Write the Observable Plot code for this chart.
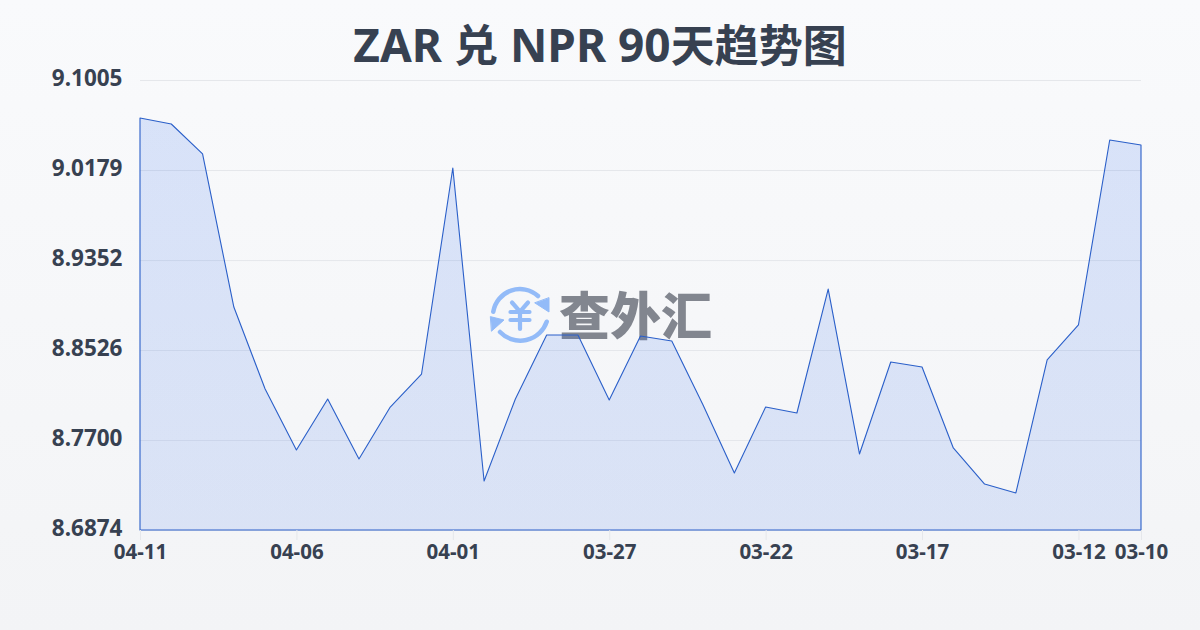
<!DOCTYPE html>
<html><head><meta charset="utf-8">
<script src="https://cdn.jsdelivr.net/npm/d3@7"></script>
<script src="https://cdn.jsdelivr.net/npm/@observablehq/plot@0.6"></script>
<style>
html,body{margin:0;padding:0;width:1200px;height:630px;overflow:hidden}
body{background:linear-gradient(180deg,#f9fafc 0%,#f3f4f6 100%);position:relative;font-family:"Noto Sans","Noto Sans CJK SC",sans-serif}
#title{position:absolute;left:0;top:0;width:1200px;height:70px;line-height:86px;text-align:center;font-size:46px;font-weight:700;color:#374151;font-family:"Noto Sans","Noto Sans CJK SC",sans-serif;white-space:nowrap}
#title b{font-size:44px;font-weight:700;font-family:"Noto Sans CJK SC"}
#wm{position:absolute;left:488px;top:283px;width:240px;height:64px}
#wm span{position:absolute;left:71px;top:-8px;font-size:51px;font-weight:900;line-height:76px;color:#82868f;font-family:"Noto Sans CJK SC";white-space:nowrap}
#chart{position:absolute;left:0;top:70px}
svg{background:transparent!important;display:block}
</style></head><body>
<div id="title">ZAR <b>兑</b> NPR 90<b>天趋势图</b></div>
<div id="wm">
<svg width="64" height="64" viewBox="0 0 64 64" fill="none" stroke="#93bbf8" stroke-linecap="round" stroke-linejoin="round">
<path d="M5.3 28.7 A27 27 0 0 1 50 13" stroke-width="4.5"/><path d="M58.7 38.7 A28 28 0 0 1 12 49" stroke-width="4.5"/>
<path d="M61 15 L61 29 L47 20 Z" fill="#93bbf8" stroke="#93bbf8" stroke-width="1"/>
<path d="M2.7 33.7 L16 37 L3.7 48 Z" fill="#93bbf8" stroke="#93bbf8" stroke-width="1"/>
<path d="M24 19.5 L32 28.7 L40 19.5 M22.5 29 H41.5 M22.5 37 H41.5 M32 29 V46" stroke-width="4.2"/>
</svg><span>查外汇</span></div>
<div id="chart"></div>
<script>
const dates=["04-11","04-10","04-09","04-08","04-07","04-06","04-05","04-04","04-03","04-02","04-01","03-31","03-30","03-29","03-28","03-27","03-26","03-25","03-24","03-23","03-22","03-21","03-20","03-19","03-18","03-17","03-16","03-15","03-14","03-13","03-12","03-11","03-10"];
const rates=[9.0656,9.0601,9.0326,8.8921,8.8168,8.7608,8.8077,8.7526,8.8003,8.8306,9.0197,8.7324,8.8077,8.8664,8.8664,8.8067,8.8655,8.8609,8.8021,8.7397,8.8003,8.7948,8.9086,8.7572,8.8416,8.8370,8.7627,8.7296,8.7214,8.8435,8.8756,9.0454,9.0408];
const xTicks=["04-11","04-06","04-01","03-27","03-22","03-17","03-12","03-10"];
const yTicks=[9.1005,9.0179,8.9352,8.8526,8.7700,8.6874];
const rows=dates.map((d,i)=>({d,v:rates[i]}));
const plot=Plot.plot({
  width:1200,height:560,marginTop:10,marginBottom:100,marginLeft:140,marginRight:59,
  style:{background:"transparent",overflow:"visible",fontFamily:"'Noto Sans',sans-serif"},
  x:{type:"point",domain:dates,padding:0,round:false,label:null},
  y:{domain:[8.6874,9.1005],label:null},
  marks:[
    Plot.gridY(yTicks,{stroke:"#e5e7eb",strokeOpacity:1,strokeWidth:1}),
    Plot.areaY(rows,{x:"d",y1:8.6874,y2:"v",fill:"url(#areaFill)",stroke:"#2a5fc9",strokeWidth:1.1}),
    Plot.axisY(yTicks,{tickSize:0,tickPadding:18,tickFormat:d=>d.toFixed(4),fontSize:22.5,fontWeight:700,fill:"#374151",label:null,dy:-1.5}),
    Plot.axisX(xTicks,{tickSize:10,stroke:"#e5e7eb",tickPadding:4,fontSize:20.5,fontWeight:700,fill:"#374151",label:null})
  ]
});
const defs=d3.select(plot).insert("defs",":first-child").append("linearGradient").attr("id","areaFill").attr("x1",0).attr("y1",0).attr("x2",0).attr("y2",1);
defs.append("stop").attr("offset","0%").attr("stop-color","#2563eb").attr("stop-opacity",0.15);
defs.append("stop").attr("offset","100%").attr("stop-color","#2563eb").attr("stop-opacity",0.125);
document.getElementById("chart").appendChild(plot);
</script>
</body></html>
